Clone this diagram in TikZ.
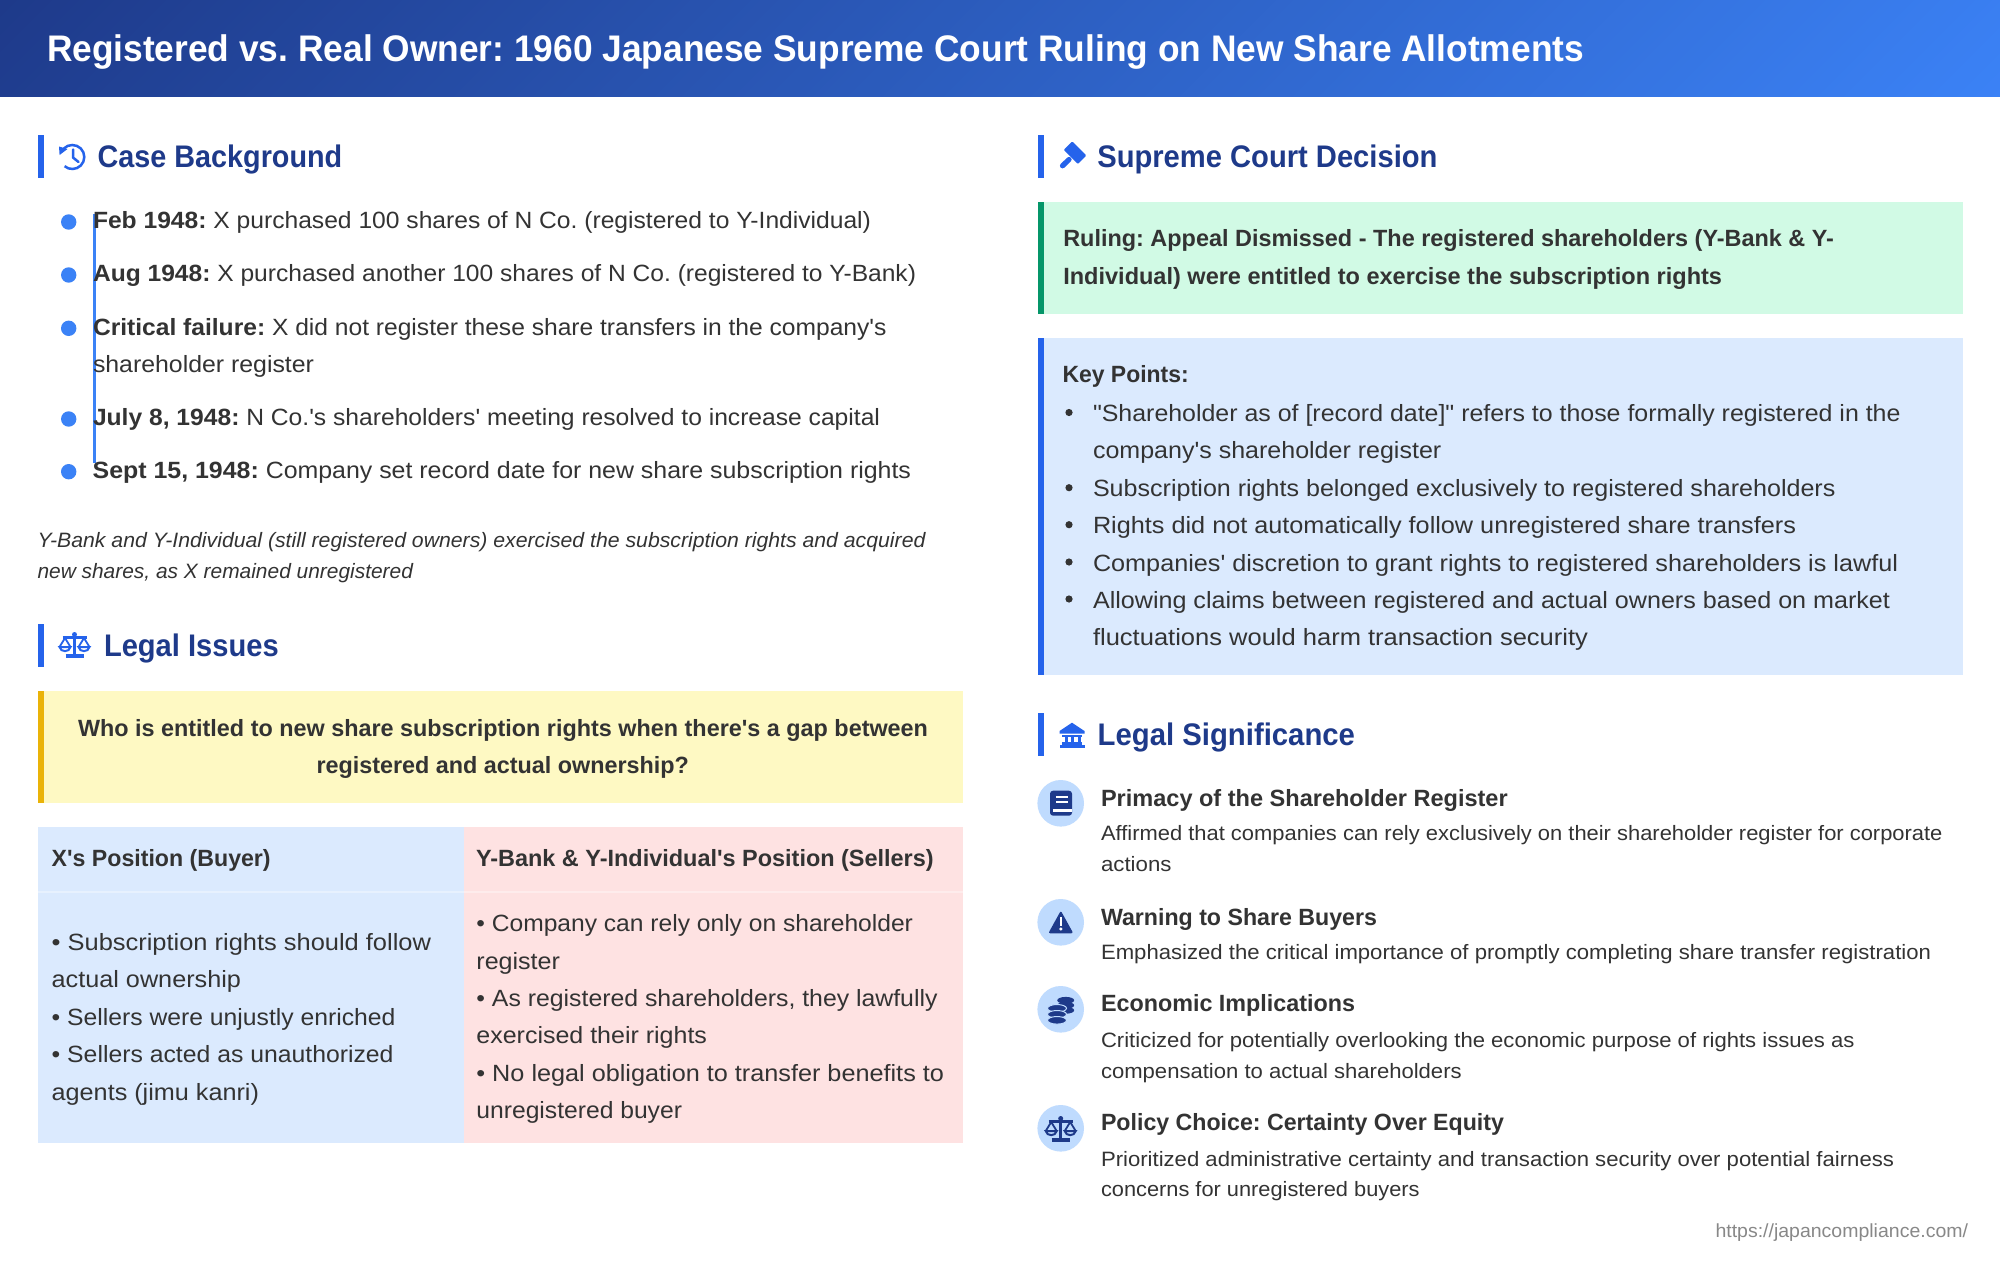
\documentclass[tikz,border=0pt]{standalone}
\usepackage{fontspec}
\usepackage{graphicx}
\setmainfont{Liberation Sans}[Ligatures=TeXOff]
\definecolor{hdA}{HTML}{1E3A8A}
\definecolor{hdB}{HTML}{3B82F6}
\definecolor{barblue}{HTML}{2563EB}
\definecolor{dot}{HTML}{3B82F6}
\definecolor{ink}{HTML}{333333}
\definecolor{boxblue}{HTML}{DBEAFE}
\definecolor{boxred}{HTML}{FEE2E2}
\definecolor{boxyellow}{HTML}{FEF9C3}
\definecolor{baryellow}{HTML}{EAB308}
\definecolor{boxgreen}{HTML}{D1FAE5}
\definecolor{bargreen}{HTML}{059669}
\definecolor{iconbg}{HTML}{BFDBFE}
\definecolor{foot}{HTML}{888888}
\newcommand{\fsTitle}{\fontsize{18.5}{22}\selectfont\bfseries}
\newcommand{\fsHead}{\fontsize{15.6}{20}\selectfont\bfseries}
\newcommand{\fsBody}{\fontsize{11.75}{14}\selectfont}
\newcommand{\fsBold}{\fontsize{11.75}{14}\selectfont\bfseries}
\newcommand{\fsDesc}{\fontsize{10.4}{13}\selectfont}
\newcommand{\fsFoot}{\fontsize{9.5}{12}\selectfont}
\newcommand{\tl}[6]{\pgfmathsetlengthmacro{\tw}{(#4-#2)*0.5pt}\node[textline] (#1) at (#2,#3) {\resizebox{\tw}{\height}{\frenchspacing#5#6}};}
\newcommand{\sbar}[3]{\fill[barblue] (#1,#2) rectangle (#1+6,#3);}
\newcommand{\scalesicon}[3]{\begin{scope}[shift={(#1,#2)},#3,line width=1.25pt]
 \draw (0,-11) -- (0,10);
 \draw[line width=1.6pt] (-9,11) -- (9,11);
 \draw (-12,-7.5) -- (12,-7.5);
 \fill (0,-10.5) circle (2.5);
 \draw[line width=.9pt,line join=round] (-15,2) -- (-9.5,-7) -- (-4,2);
 \draw[line width=.9pt,line join=round] (15,2) -- (9.5,-7) -- (4,2);
 \draw[line width=1pt] (-15,2) .. controls (-14,7.5) and (-5,7.5) .. (-4,2) -- cycle;
 \draw[line width=1pt] (15,2) .. controls (14,7.5) and (5,7.5) .. (4,2) -- cycle;
\end{scope}}
\tikzset{textline/.style={inner sep=0pt,outer sep=0pt,anchor=base west,text=ink}}
\begin{document}
\begin{tikzpicture}[x=0.5pt,y=-0.5pt]
\useasboundingbox (0,0) rectangle (2000,1263);
\fill[white] (0,0) rectangle (2000,1263);
% header gradient at 135 degrees
\begin{scope}
\clip (0,0) rectangle (2000,97);
\fill[hdA] (0,0) rectangle (2000,97);
\foreach \i in {0,...,240}{
 \pgfmathsetmacro{\gx}{\i/240*2097}
 \pgfmathsetmacro{\pct}{\i/240*100}
 \fill[hdB!\pct!hdA] (\gx,0) -- (2200,0) -- (2200,97) -- (\gx-97,97) -- cycle;
}
\end{scope}
\tl{title}{47}{61.5}{1584}{\color{white}\fsTitle}{Registered vs. Real Owner: 1960 Japanese Supreme Court Ruling on New Share Allotments}

% ---- left column
\sbar{37.5}{134.7}{178}
\begin{scope}[barblue,line width=1.25pt]
 \draw (72.3,157) ++(225:12) arc[start angle=225,end angle=490,radius=12];
 \fill (59,146.5) -- (59.6,155) -- (67.5,149) -- cycle;
 \draw[line cap=round,line join=round] (73,149.5) -- (73,157.5) -- (78.5,162);
\end{scope}
\tl{hcase}{97.7}{167.4}{342.3}{\color{hdA}\fsHead}{Case Background}

\draw[dot,line width=1.5pt] (94,214) -- (94,463);
\foreach \yy in {222,275,328.3,419,471.7} \fill[dot] (68.7,\yy) circle (7.7);
\tl{b1}{93}{228.3}{871}{\fsBody}{{\bfseries Feb 1948:} X purchased 100 shares of N Co. (registered to Y-Individual)}
\tl{b2}{93}{281.7}{916}{\fsBody}{{\bfseries Aug 1948:} X purchased another 100 shares of N Co. (registered to Y-Bank)}
\tl{b3}{93}{335}{886.5}{\fsBody}{{\bfseries Critical failure:} X did not register these share transfers in the company's}
\tl{b3b}{93}{372.7}{314}{\fsBody}{shareholder register}
\tl{b4}{93}{425}{880}{\fsBody}{{\bfseries July 8, 1948:} N Co.'s shareholders' meeting resolved to increase capital}
\tl{b5}{92.7}{478.3}{911}{\fsBody}{{\bfseries Sept 15, 1948:} Company set record date for new share subscription rights}
\tl{n1}{37.5}{547}{925.5}{\fsDesc\itshape}{Y-Bank and Y-Individual (still registered owners) exercised the subscription rights and acquired}
\tl{n2}{37.5}{578.5}{413}{\fsDesc\itshape}{new shares, as X remained unregistered}

\sbar{37.5}{624}{667.3}
\scalesicon{74.5}{645}{barblue,draw=barblue,fill=barblue}
\tl{hissue}{104}{656.7}{278.7}{\color{hdA}\fsHead}{Legal Issues}

\fill[boxyellow] (37.5,690.7) rectangle (962.5,802.7);
\fill[baryellow] (37.5,690.7) rectangle (43.5,802.7);
\tl{q1}{78}{736}{928}{\fsBold}{Who is entitled to new share subscription rights when there's a gap between}
\tl{q2}{316.5}{773.3}{689}{\fsBold}{registered and actual ownership?}

\fill[boxblue] (37.5,827.3) rectangle (464,1143);
\fill[boxred] (464,827.3) rectangle (962.5,1143);
\fill[white,opacity=.35] (37.5,890.7) rectangle (962.5,892.7);
\tl{tx}{51.7}{866.7}{270.7}{\fsBold}{X's Position (Buyer)}
\tl{ty}{476}{866.7}{933.7}{\fsBold}{Y-Bank \& Y-Individual's Position (Sellers)}
\tl{l1}{51.7}{950}{431}{\fsBody}{• Subscription rights should follow}
\tl{l2}{51.7}{987.6}{241}{\fsBody}{actual ownership}
\tl{l3}{51.7}{1025.5}{395.4}{\fsBody}{• Sellers were unjustly enriched}
\tl{l4}{51.7}{1062.6}{393.5}{\fsBody}{• Sellers acted as unauthorized}
\tl{l5}{51.7}{1100.8}{259}{\fsBody}{agents (jimu kanri)}
\tl{r1}{476.4}{931}{913}{\fsBody}{• Company can rely only on shareholder}
\tl{r2}{476.4}{969.5}{560}{\fsBody}{register}
\tl{r3}{476.4}{1006.4}{937.5}{\fsBody}{• As registered shareholders, they lawfully}
\tl{r4}{476.4}{1043.4}{707}{\fsBody}{exercised their rights}
\tl{r5}{476.4}{1081.7}{944}{\fsBody}{• No legal obligation to transfer benefits to}
\tl{r6}{476.4}{1118.7}{682}{\fsBody}{unregistered buyer}

% ---- right column
\sbar{1037.5}{134.7}{178}
\begin{scope}[barblue]
 \fill[rotate around={-45:(1075,152.7)},rounded corners=.5pt] (1065,146.7) rectangle (1085,158.7);
 \draw[line width=2.6pt,line cap=round] (1069,159.5) -- (1062.5,165.8);
\end{scope}
\tl{hcourt}{1097.3}{167.4}{1437.5}{\color{hdA}\fsHead}{Supreme Court Decision}

\fill[boxgreen] (1037.5,201.7) rectangle (1963,314);
\fill[bargreen] (1037.5,201.7) rectangle (1043.5,314);
\tl{g1}{1063.3}{246.7}{1834}{\fsBold}{Ruling: Appeal Dismissed - The registered shareholders (Y-Bank \& Y-}
\tl{g2}{1063.3}{284}{1722}{\fsBold}{Individual) were entitled to exercise the subscription rights}

\fill[boxblue] (1037.5,338) rectangle (1963,674.7);
\fill[barblue] (1037.5,338) rectangle (1043.5,674.7);
\tl{kp}{1062.5}{382.7}{1188.8}{\fsBold}{Key Points:}
\foreach \yy in {412.5,487.7,524.7,562,599} \fill[ink] (1069,\yy) circle (3.6);
\tl{k1}{1093}{421}{1900.5}{\fsBody}{"Shareholder as of [record date]" refers to those formally registered in the}
\tl{k1b}{1093}{458}{1441.3}{\fsBody}{company's shareholder register}
\tl{k2}{1093}{496.2}{1835.4}{\fsBody}{Subscription rights belonged exclusively to registered shareholders}
\tl{k3}{1093}{533.2}{1796}{\fsBody}{Rights did not automatically follow unregistered share transfers}
\tl{k4}{1093}{571.5}{1898}{\fsBody}{Companies' discretion to grant rights to registered shareholders is lawful}
\tl{k5}{1093}{608.5}{1890}{\fsBody}{Allowing claims between registered and actual owners based on market}
\tl{k5b}{1093}{645.5}{1588}{\fsBody}{fluctuations would harm transaction security}

\sbar{1037.5}{712.7}{756}
\begin{scope}[barblue]
 \fill (1059.5,731) -- (1072,722.7) -- (1084.5,731) -- (1084.5,733.5) -- (1059.5,733.5) -- cycle;
 \fill (1062,735) rectangle (1082,737);
 \foreach \xx in {1064.5,1071,1077.5} \fill (\xx,737) rectangle (\xx+3,742);
 \fill (1062,742) rectangle (1082,744.5);
 \fill (1059.5,745) rectangle (1084.5,747.7);
\end{scope}
\tl{hsig}{1097.7}{745}{1355}{\color{hdA}\fsHead}{Legal Significance}

\foreach \yy in {803.3,922.3,1009.3,1128.3} \fill[iconbg] (1060.7,\yy) circle (23.3);
% book
\fill[hdA,rounded corners=1.5pt] (1050,790.7) rectangle (1072,815.7);
\fill[white] (1056,795.5) rectangle (1068,797.5);
\fill[white] (1056,800.5) rectangle (1068,802.5);
\fill[white] (1053,809) rectangle (1072,812);
% warning
\fill[hdA,rounded corners=1pt] (1060.8,910.7) -- (1073.3,933.3) -- (1048.3,933.3) -- cycle;
\fill[white] (1059.5,917) rectangle (1062.2,925.5);
\fill[white] (1060.8,929) circle (1.7);
% coins
\begin{scope}[hdA]
 \foreach \yy/\xx in {-9/5,-4/5,1/5} \fill (1060.7+\xx,1009.3+\yy) ellipse (8.5 and 3.4);
 \foreach \yy in {-1,5,11} {\fill[draw=iconbg,line width=.5pt] (1057,1009.3+\yy) ellipse (9.5 and 3.8);}
\end{scope}
\scalesicon{1060.7}{1129}{hdA,draw=hdA,fill=hdA}

\tl{s1}{1101}{806}{1507.7}{\fsBold}{Primacy of the Shareholder Register}
\tl{s1a}{1101}{840.7}{1942.5}{\fsDesc}{Affirmed that companies can rely exclusively on their shareholder register for corporate}
\tl{s1b}{1101}{871.7}{1171.5}{\fsDesc}{actions}
\tl{s2}{1101}{925}{1377}{\fsBold}{Warning to Share Buyers}
\tl{s2a}{1101}{959.3}{1931}{\fsDesc}{Emphasized the critical importance of promptly completing share transfer registration}
\tl{s3}{1101}{1011.7}{1355}{\fsBold}{Economic Implications}
\tl{s3a}{1101}{1047.3}{1854.5}{\fsDesc}{Criticized for potentially overlooking the economic purpose of rights issues as}
\tl{s3b}{1101}{1078.3}{1461.7}{\fsDesc}{compensation to actual shareholders}
\tl{s4}{1101}{1130.7}{1504}{\fsBold}{Policy Choice: Certainty Over Equity}
\tl{s4a}{1101}{1166}{1894}{\fsDesc}{Prioritized administrative certainty and transaction security over potential fairness}
\tl{s4b}{1101}{1196.7}{1419.6}{\fsDesc}{concerns for unregistered buyers}

\tl{foot}{1715.5}{1237}{1968}{\color{foot}\fsFoot}{https://japancompliance.com/}
\end{tikzpicture}
\end{document}
